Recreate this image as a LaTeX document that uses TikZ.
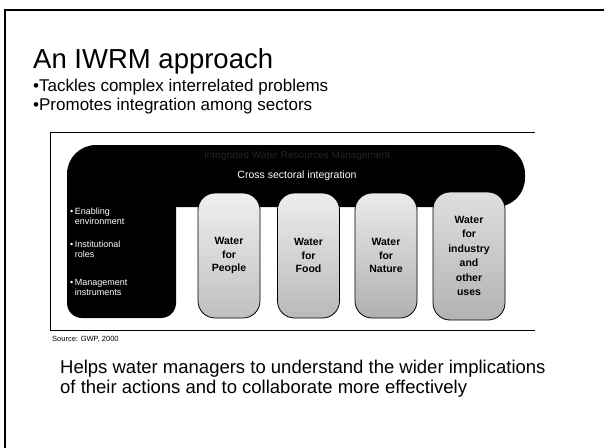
\documentclass[tikz,border=0pt]{standalone}
\usepackage{fontspec}
\setmainfont{Liberation Sans}
\begin{document}
\begin{tikzpicture}[x=1pt,y=-1pt,
  frameline/.style={line width=2pt, line cap=rect},
  figline/.style={line width=0.9pt},
  pill/.style={draw=black, line width=0.8pt, rounded corners=17pt, shape=rectangle,
    minimum width=62pt, minimum height=125pt, align=center, inner sep=1pt,
    font=\bfseries\fontsize{10.5}{13.5}\selectfont, text=black},
  lefttext/.style={anchor=north west, align=left, text=white, inner sep=0pt,
    font=\fontsize{9}{10}\selectfont},
  bodytext/.style={anchor=base west, inner sep=0pt}
]
\useasboundingbox (0,0) rectangle (604,447);
\fill[white] (0,0) rectangle (604,447);

% slide frame
\draw[frameline] (5,448) -- (5,10) -- (605,10);

% titles
\node[bodytext, font=\fontsize{27.5}{30}\selectfont] (title) at (33,68) {An IWRM approach};
\node[bodytext, font=\fontsize{17}{19}\selectfont] (b1) at (33,91) {\textbullet Tackles complex interrelated problems};
\node[bodytext, font=\fontsize{17}{19}\selectfont] (b2) at (33,110) {\textbullet Promotes integration among sectors};

% figure frame
\draw[figline] (535,132) -- (50,132) -- (50,330) -- (535,330);

% black framework shape
\fill[black, rounded corners=29pt] (67,145) rectangle (525,207);
\fill[black, rounded corners=15pt] (67,165) rectangle (176,318);

\node[text=black!85, font=\fontsize{10}{12}\selectfont] (iwrm) at (297,156) {Integrated Water Resources Management};
\node[text=white, font=\fontsize{10.5}{12}\selectfont] (cross) at (297,176) {Cross sectoral integration};

\node[lefttext] (env) at (70,208) {\textbullet\,Enabling\\\hphantom{\textbullet\,}environment};
\node[lefttext] (inst) at (70,241) {\textbullet\,Institutional\\\hphantom{\textbullet\,}roles};
\node[lefttext] (mgmt) at (70,279) {\textbullet\,Management\\\hphantom{\textbullet\,}instruments};

% sector pills
\node[pill, top color=gray!12, bottom color=gray!50] (people) at (229,255.5) {Water\\for\\People};
\node[pill, top color=gray!14, bottom color=gray!55] (food) at (308.5,255.5) {Water\\for\\Food};
\node[pill, top color=gray!16, bottom color=gray!62] (nature) at (386,255.5) {Water\\for\\Nature};
\node[pill, minimum width=72pt, minimum height=128pt, top color=gray!25, bottom color=gray!60,
      font=\bfseries\fontsize{10.5}{14.5}\selectfont] (industry) at (469,256) {Water\\for\\industry\\and\\other\\uses};

\node[anchor=base west, inner sep=0pt, font=\fontsize{7.5}{8}\selectfont] (src) at (52,341) {Source: GWP, 2000};

\node[bodytext, font=\fontsize{18.5}{20}\selectfont] (l1) at (60,373) {Helps water managers to understand the wider implications};
\node[bodytext, font=\fontsize{18.5}{20}\selectfont] (l2) at (60,393) {of their actions and to collaborate more effectively};
\end{tikzpicture}
\end{document}
